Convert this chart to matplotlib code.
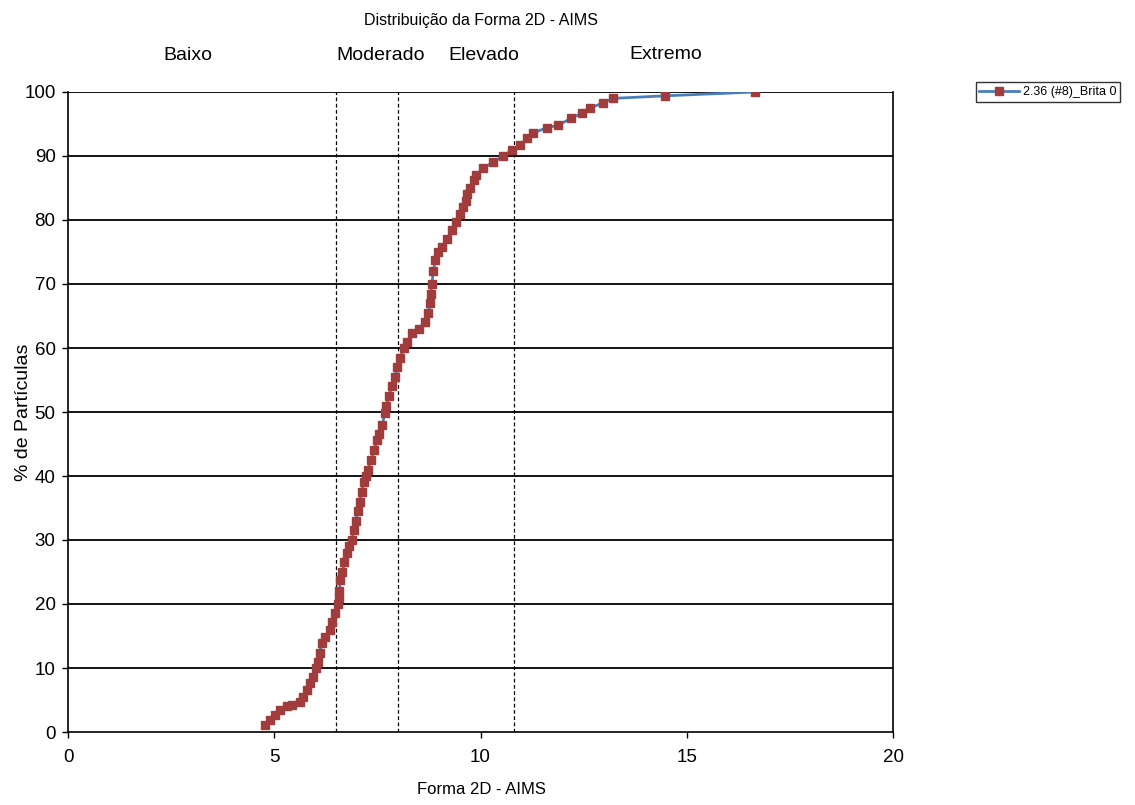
import matplotlib
matplotlib.use("Agg")
import matplotlib.pyplot as plt
from matplotlib import font_manager

names = {f.name for f in font_manager.fontManager.ttflist}
fam = [n for n in ["Liberation Sans Narrow", "Liberation Sans", "DejaVu Sans"] if n in names]
plt.rcParams['font.family'] = fam

# Data
forma_2d = [4.78, 4.90, 5.02, 5.14, 5.30, 5.43, 5.62, 5.70, 5.80, 5.87, 5.94, 6.00, 6.06, 6.10,
            6.15, 6.23, 6.35, 6.40, 6.47, 6.55, 6.57, 6.58, 6.60, 6.65, 6.70, 6.76, 6.82, 6.88,
            6.93, 6.98, 7.02, 7.07, 7.12, 7.17, 7.22, 7.27, 7.35, 7.42, 7.49, 7.55, 7.62, 7.68,
            7.72, 7.78, 7.85, 7.92, 7.98, 8.05, 8.15, 8.22, 8.34, 8.50, 8.65, 8.73, 8.78, 8.80,
            8.82, 8.86, 8.90, 8.98, 9.07, 9.20, 9.30, 9.40, 9.50, 9.58, 9.65, 9.68, 9.75, 9.85,
            9.90, 10.06, 10.30, 10.55, 10.76, 10.96, 11.13, 11.28, 11.60, 11.88, 12.20, 12.46,
            12.66, 12.97, 13.20, 14.47, 16.65]
pct_particulas = [1.1, 1.9, 2.7, 3.4, 4.0, 4.2, 4.7, 5.5, 6.6, 7.6, 8.6, 10.0, 11.0, 12.3,
                  13.9, 14.9, 15.9, 17.2, 18.6, 20.0, 21.0, 22.0, 23.7, 25.0, 26.5, 28.0, 29.0, 30.0,
                  31.5, 33.0, 34.5, 36.0, 37.5, 39.0, 40.0, 41.0, 42.5, 44.0, 45.6, 46.5, 48.0, 49.8,
                  51.0, 52.5, 54.0, 55.5, 57.0, 58.5, 60.0, 61.0, 62.3, 63.0, 64.0, 65.5, 67.0, 68.5,
                  70.0, 72.0, 73.75, 75.0, 75.8, 77.0, 78.5, 79.7, 81.0, 82.0, 83.0, 84.0, 85.0, 86.25,
                  87.0, 88.1, 89.0, 90.0, 90.9, 91.7, 92.8, 93.6, 94.4, 94.8, 95.9, 96.7,
                  97.5, 98.3, 99.0, 99.4, 100.0]
limites = [6.5, 8.0, 10.8]
classes = ["Baixo", "Moderado", "Elevado", "Extremo"]
classes_x = [2.9, 7.59, 10.08, 14.5]
classes_y = [104.3, 104.3, 104.3, 104.6]
x_ticks = [0, 5, 10, 15, 20]
y_ticks = list(range(0, 101, 10))
serie_nome = "2.36 (#8)_Brita 0"

fig = plt.figure(figsize=(11.35, 8.05), dpi=100)
ax = fig.add_axes([68/1135, 73/805, (893-68)/1135, (732-92)/805])

ax.set_xlim(0, 20)
ax.set_ylim(0, 100)
for yv in y_ticks[1:]:
    ax.axhline(yv, color='black', lw=1.3, zorder=1)
for xv in limites:
    ax.axvline(xv, color='black', lw=0.9, ls=(0, (3, 2)), zorder=1)

ln, = ax.plot(forma_2d, pct_particulas, color='#4A7EBB', lw=2, marker='s', ms=5.5,
              markerfacecolor='#A03C3C', markeredgecolor='#A03C3C', zorder=3, label=serie_nome)

ax.set_xticks(x_ticks)
ax.set_yticks(y_ticks)
ax.tick_params(axis='both', direction='out', length=4, width=1, labelsize=13.5, colors='black')
ax.tick_params(axis='y', pad=5)
ax.tick_params(axis='x', pad=8)
for s in ax.spines.values():
    s.set_color('black')
    s.set_linewidth(1.2)
ax.spines['top'].set_visible(False)

for name, cx, cy in zip(classes, classes_x, classes_y):
    ax.text(cx, cy, name, ha='center', va='bottom', fontsize=14, clip_on=False)

fig.text(481/1135, 1 - 21/805, "Distribuição da Forma 2D - AIMS", ha='center', va='center', fontsize=11.5)
fig.text(481/1135, 1 - 789/805, "Forma 2D - AIMS", ha='center', va='center', fontsize=12)
fig.text(24/1135, 1 - 412/805, "% de Partículas", ha='center', va='center', rotation=90, fontsize=14)

leg = fig.legend(handles=[ln], loc='center', bbox_to_anchor=(1048/1135, 1 - 92/805), fontsize=9,
                 frameon=True, fancybox=False, edgecolor='black', handlelength=3.2,
                 borderpad=0.3, handletextpad=0.3)
leg.get_frame().set_linewidth(1.0)

fig.savefig("out.png", dpi=100)
